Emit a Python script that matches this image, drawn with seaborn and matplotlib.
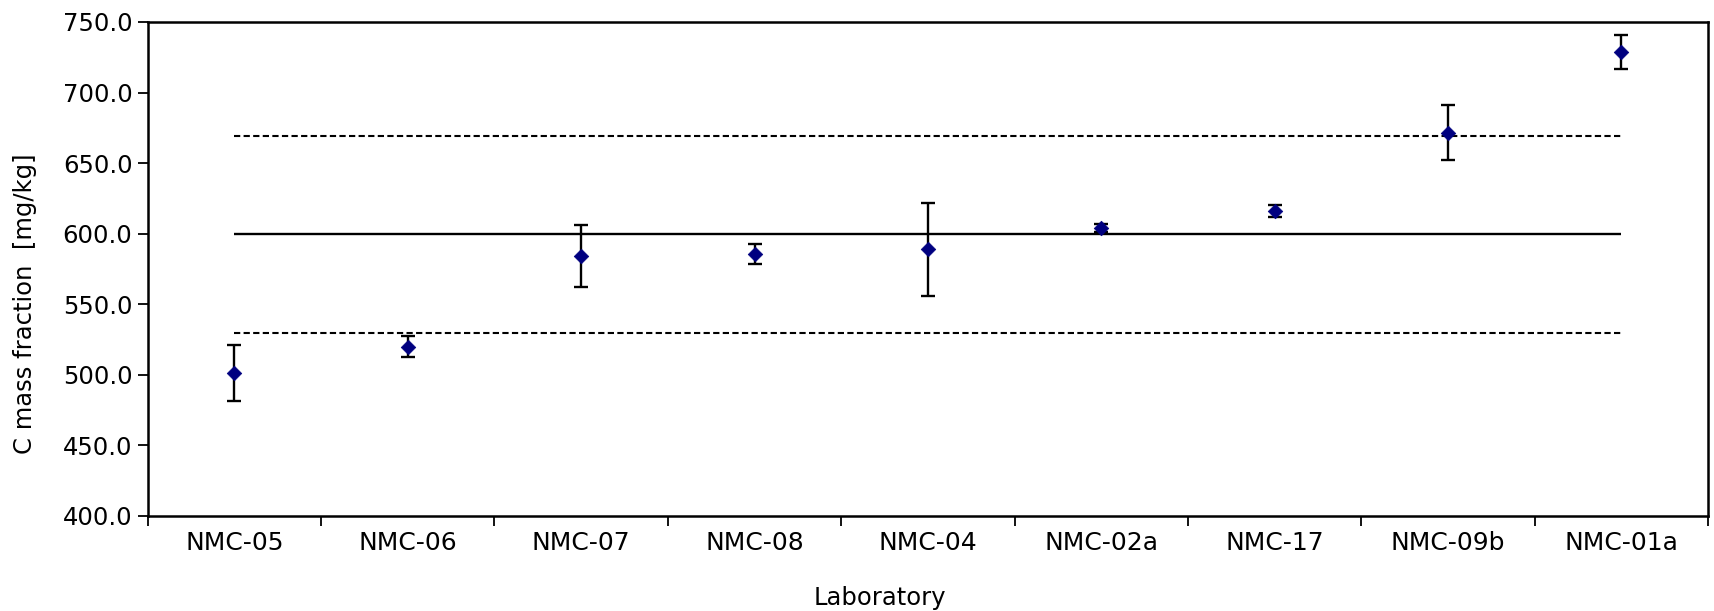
import numpy as np
import pandas as pd
import matplotlib
matplotlib.use("Agg")
import matplotlib.pyplot as plt
import seaborn as sns
from matplotlib.ticker import FixedLocator, FormatStrFormatter

labs = ["NMC-05", "NMC-06", "NMC-07", "NMC-08", "NMC-04", "NMC-02a", "NMC-17", "NMC-09b", "NMC-01a"]
values = [501.5, 520.0, 584.0, 585.5, 589.0, 604.0, 616.0, 671.5, 729.0]
uncert = [20.0, 7.5, 22.0, 7.0, 33.0, 3.0, 4.0, 19.5, 12.0]
ref_value = 600.0
upper_limit = 669.0
lower_limit = 530.0
y_ticks = [400, 450, 500, 550, 600, 650, 700, 750]

sns.set_theme(style="white")
plt.rcParams['font.family'] = ['DejaVu Sans']

df = pd.DataFrame({"Laboratory": labs, "value": values, "u": uncert})

fig = plt.figure(figsize=(17.15, 6.11), dpi=100)
ax = fig.add_axes([0.0861, 0.1555, 0.9099, 0.8085])

pos = np.arange(len(labs))
ax.hlines(ref_value, pos[0], pos[-1], colors="black", linewidth=1.7, zorder=1)
ax.hlines([upper_limit, lower_limit], pos[0], pos[-1], colors="black",
          linewidth=1.5, linestyles=(0, (3.0, 1.6)), zorder=1)

ax.errorbar(pos, df["value"], yerr=df["u"], fmt="none", ecolor="black",
            elinewidth=1.7, capsize=5, capthick=1.7, zorder=2)
sns.scatterplot(data=df, x="Laboratory", y="value", marker="D", s=55,
                color="#000080", edgecolor="#000080", linewidth=0.5, ax=ax, zorder=3)

ax.set_xlim(-0.5, len(labs) - 0.5)
ax.set_ylim(400, 750)
ax.set_yticks(y_ticks)
ax.yaxis.set_major_formatter(FormatStrFormatter("%.1f"))
ax.set_xticks(pos)
ax.set_xticklabels(labs)
ax.xaxis.set_minor_locator(FixedLocator(np.arange(-0.5, len(labs), 1.0)))
ax.tick_params(axis="x", which="major", length=0, pad=11, labelsize=18, colors="black")
ax.tick_params(axis="x", which="minor", length=7, width=1.3, color="black", direction="out", bottom=True)
ax.tick_params(axis="y", which="major", length=7, width=1.3, color="black", direction="out",
               left=True, labelsize=17.5, pad=4, labelcolor="black")

for sp in ax.spines.values():
    sp.set_color("black")
    sp.set_linewidth(1.8)

ax.set_xlabel("Laboratory", fontsize=17.5, color="black")
ax.xaxis.set_label_coords(0.469, -0.141)
ax.set_ylabel("C mass fraction  [mg/kg]", fontsize=17.5, color="black")
ax.yaxis.set_label_coords(-0.071, 0.429)

fig.savefig("out.png", dpi=100, facecolor="white")
